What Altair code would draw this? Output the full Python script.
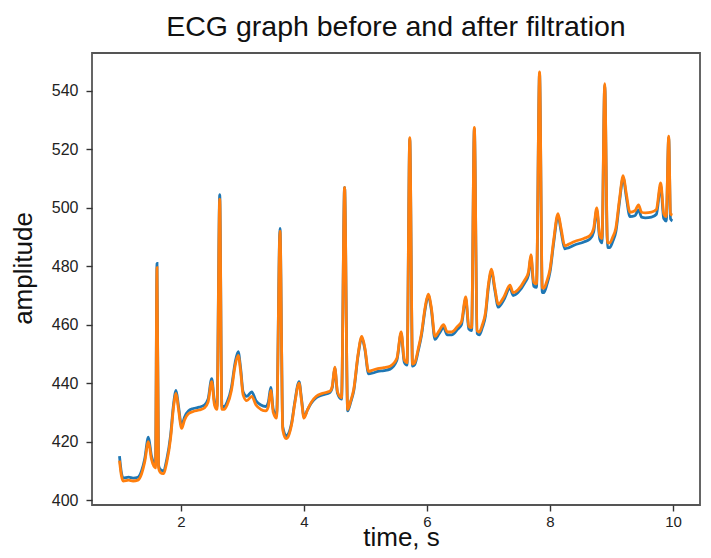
import altair as alt
import pandas as pd

# time, s
TIME = [
    1.00, 1.03, 1.06, 1.15, 1.22, 1.30, 1.36, 1.41, 1.47, 1.52, 1.56, 1.585, 1.61, 1.635, 1.66, 1.71,
    1.77, 1.83, 1.88, 1.92, 1.96, 2.01, 2.06, 2.12, 2.20, 2.30, 2.38, 2.44, 2.50, 2.545, 2.585, 2.63,
    2.665, 2.70, 2.75, 2.82, 2.88, 2.93, 2.97, 3.01, 3.07, 3.15, 3.22, 3.30, 3.38, 3.42, 3.46, 3.50,
    3.555, 3.61, 3.655, 3.71, 3.75, 3.80, 3.85, 3.92, 3.96, 4.00, 4.06, 4.12, 4.20, 4.30, 4.42, 4.46,
    4.50, 4.545, 4.61, 4.66, 4.71, 4.76, 4.81, 4.88, 4.94, 4.99, 5.05, 5.12, 5.20, 5.30, 5.40, 5.51,
    5.58, 5.63, 5.675, 5.72, 5.765, 5.80, 5.86, 5.91, 5.97, 6.02, 6.07, 6.13, 6.20, 6.27, 6.33, 6.40,
    6.50, 6.56, 6.63, 6.68, 6.725, 6.77, 6.815, 6.85, 6.90, 6.95, 7.00, 7.05, 7.10, 7.16, 7.25, 7.35,
    7.40, 7.48, 7.59, 7.65, 7.69, 7.735, 7.78, 7.83, 7.875, 7.90, 7.95, 8.00, 8.06, 8.13, 8.18, 8.24,
    8.30, 8.40, 8.55, 8.65, 8.71, 8.76, 8.81, 8.845, 8.89, 8.935, 8.97, 9.02, 9.07, 9.13, 9.19, 9.24,
    9.30, 9.38, 9.44, 9.49, 9.55, 9.65, 9.73, 9.80, 9.85, 9.89, 9.93, 9.96, 9.99,
]

# raw signal (before filtration)
RAW = [
    415.0, 409.5, 407.5, 407.8, 407.5, 407.8, 410.0, 414.0, 421.5, 415.0, 412.5, 412.0, 481.0, 412.0, 410.5, 410.0,
    414.0, 422.0, 433.0, 437.5, 432.0, 425.5, 428.5, 430.5, 431.3, 431.8, 432.5, 434.5, 441.5, 433.5, 432.0, 504.5,
    432.0, 432.0, 433.5, 438.5, 447.0, 450.8, 445.0, 437.0, 435.5, 437.0, 434.0, 432.5, 432.0, 433.5, 438.5, 431.0,
    429.0, 493.0, 425.0, 422.0, 422.8, 426.5, 433.5, 440.5, 434.5, 428.5, 431.0, 433.2, 435.0, 436.0, 436.8, 438.5,
    445.2, 436.5, 434.5, 507.0, 430.5, 433.5, 437.5, 449.5, 455.5, 451.5, 443.2, 443.5, 444.0, 444.3, 444.8, 447.8,
    457.0, 447.2, 446.2, 523.5, 445.8, 446.3, 451.3, 456.3, 465.3, 470.0, 465.2, 455.0, 457.0, 459.0, 456.5, 456.5,
    458.5, 460.0, 468.8, 458.5, 458.0, 527.0, 457.0, 456.5, 459.0, 463.0, 473.0, 478.3, 472.2, 466.0, 468.5, 472.6,
    470.0, 471.0, 474.3, 477.0, 483.3, 473.2, 472.8, 546.0, 471.0, 471.0, 473.8, 478.0, 488.0, 497.3, 492.0, 486.0,
    486.3, 487.3, 488.3, 489.3, 491.8, 499.2, 489.2, 488.0, 542.0, 486.5, 486.4, 488.5, 491.7, 502.0, 510.3, 503.8,
    497.0, 497.3, 499.3, 496.8, 496.6, 496.8, 497.8, 507.5, 496.3, 495.5, 524.0, 496.2, 495.5,
]

# filtered signal (after filtration)
FILTERED = [
    413.5, 408.5, 406.5, 406.8, 406.5, 406.8, 409.0, 413.0, 420.0, 414.0, 411.5, 411.0, 479.5, 411.0, 409.5, 409.0,
    413.0, 421.0, 432.0, 436.5, 431.0, 424.5, 427.5, 429.5, 430.3, 430.8, 431.5, 433.5, 440.5, 432.5, 431.0, 503.0,
    431.0, 431.0, 432.5, 437.5, 446.0, 449.5, 444.0, 436.0, 434.0, 435.5, 432.5, 431.0, 430.5, 432.0, 437.5, 430.0,
    428.0, 492.0, 424.0, 421.0, 422.0, 426.0, 433.0, 440.0, 434.0, 428.0, 431.0, 433.5, 435.5, 436.5, 437.2, 439.0,
    445.5, 437.0, 435.0, 507.0, 431.0, 434.0, 438.0, 450.0, 456.0, 452.0, 444.0, 444.5, 445.0, 445.3, 445.8, 448.5,
    457.5, 448.0, 447.0, 524.0, 446.5, 447.0, 452.0, 457.0, 466.0, 470.5, 466.0, 456.0, 458.0, 460.0, 457.5, 457.5,
    459.5, 461.0, 469.5, 459.5, 459.0, 527.5, 458.0, 457.5, 460.0, 464.0, 474.0, 479.0, 473.0, 467.0, 469.5, 473.5,
    471.0, 472.0, 475.3, 478.0, 484.0, 474.5, 474.0, 546.5, 472.5, 472.5, 475.0, 479.0, 489.0, 498.0, 493.0, 487.0,
    487.5, 488.5, 489.5, 490.5, 493.0, 500.0, 490.5, 489.5, 542.5, 488.0, 488.0, 490.0, 493.0, 503.0, 511.0, 505.0,
    498.5, 499.0, 501.0, 498.5, 498.3, 498.5, 499.5, 508.5, 498.0, 497.0, 524.5, 498.0, 497.5,
]

X_TICKS = [2, 4, 6, 8, 10]
Y_TICKS = [400, 420, 440, 460, 480, 500, 520, 540]

assert len(TIME) == len(RAW) == len(FILTERED)

df = pd.DataFrame({"time": TIME, "raw": RAW, "filtered": FILTERED})

x_enc = alt.X(
    "time:Q",
    scale=alt.Scale(domain=[0.553, 10.439], nice=False, zero=False),
    axis=alt.Axis(
        values=X_TICKS,
        title="time, s",
        titleFontSize=26,
        titleFont="Liberation Sans",
        titleFontWeight="normal",
        titleColor="#111",
        titleBaseline="alphabetic",
        titleY=40,
        titleX=309,
        labelPadding=3,
        labelFontSize=15,
    ),
)

def y_enc(field):
    return alt.Y(
        f"{field}:Q",
        scale=alt.Scale(domain=[398.29, 553.0], nice=False, zero=False),
        axis=alt.Axis(
            values=Y_TICKS,
            title="amplitude",
            titleFontSize=26,
            titleFont="Liberation Sans",
            titleFontWeight="normal",
            titleColor="#111",
            titleAngle=270,
            titleBaseline="alphabetic",
            titleAlign="center",
            titleX=-61,
            titleY=215,
            labelPadding=8,
        ),
    )

base = alt.Chart(df)
raw_line = base.mark_line(color="#1f77b4", strokeWidth=2.8, interpolate="monotone").encode(
    x=x_enc, y=y_enc("raw")
)
filt_line = base.mark_line(color="#ff7f0e", strokeWidth=2.8, interpolate="monotone").encode(
    x=x_enc, y=y_enc("filtered")
)

chart = (
    alt.layer(raw_line, filt_line)
    .properties(
        width=608,
        height=452,
        padding={"left": 84, "top": 45, "right": 3, "bottom": 45},
        autosize=alt.AutoSizeParams(type="none"),
        title=alt.TitleParams(
            "ECG graph before and after filtration",
            font="Liberation Sans",
            fontSize=28.5,
            fontWeight="normal",
            color="#111",
            offset=12,
        ),
    )
    .configure_view(stroke="#555", strokeWidth=1.8)
    .configure_axis(
        grid=False,
        domain=False,
        tickColor="#333",
        tickSize=6,
        tickWidth=1.4,
        labelFont="Liberation Sans",
        labelFontSize=16,
        labelColor="#222",
    )
)

chart.save("out.html", embed_options={"renderer": "svg", "actions": False})
